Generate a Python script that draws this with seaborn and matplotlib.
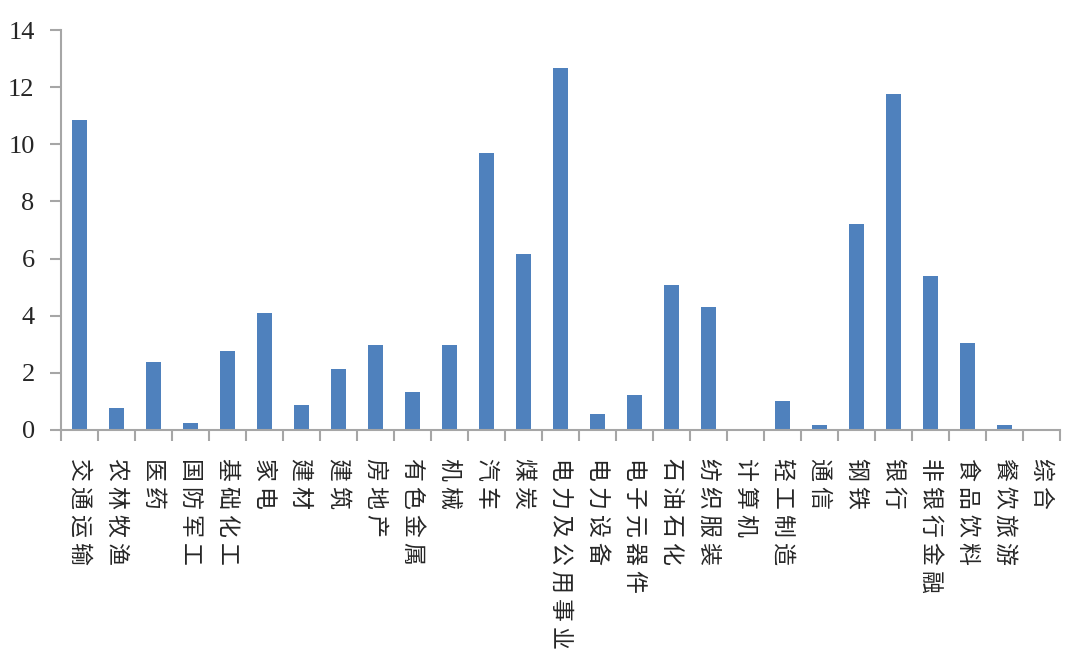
import numpy as np
import pandas as pd
import matplotlib
matplotlib.use('Agg')
import matplotlib.pyplot as plt
import seaborn as sns

# 行业数据
industries = ['交通运输', '农林牧渔', '医药', '国防军工', '基础化工', '家电', '建材', '建筑',
              '房地产', '有色金属', '机械', '汽车', '煤炭', '电力及公用事业', '电力设备',
              '电子元器件', '石油石化', '纺织服装', '计算机', '轻工制造', '通信', '钢铁',
              '银行', '非银行金融', '食品饮料', '餐饮旅游', '综合']
values = [10.85, 0.78, 2.39, 0.25, 2.77, 4.1, 0.88, 2.14,
          2.97, 1.33, 2.97, 9.68, 6.15, 12.66, 0.56,
          1.22, 5.07, 4.3, 0.02, 1.02, 0.18, 7.21,
          11.75, 5.39, 3.05, 0.18, 0.01]
y_ticks = [0, 2, 4, 6, 8, 10, 12, 14]

df = pd.DataFrame({'industry': industries, 'value': values})

sns.set_theme(style='white')
plt.rcParams['font.family'] = ['Noto Sans CJK SC', 'DejaVu Sans']

fig = plt.figure(figsize=(10.71, 6.6), dpi=100)
ax = fig.add_axes([0.057, 0.3485, 0.9327, 0.606])

sns.barplot(data=df, x='industry', y='value', color='#4F81BD', saturation=1,
            width=0.42, linewidth=0, ax=ax)

ax.set_xlim(-0.5, len(industries) - 0.5)
ax.set_ylim(0, 14)
ax.set_yticks(y_ticks)
ax.set_yticklabels([str(t) for t in y_ticks], family=['Liberation Serif'], fontsize=19)

# x轴标签：竖排
spaced = [' '.join(list(s)) for s in industries]
ax.set_xticks(range(len(industries)))
ax.set_xticklabels(spaced, rotation=-90, ha='center', va='top', fontsize=16.5,
                   family=['Noto Sans CJK SC', 'DejaVu Sans'])
ax.tick_params(axis='x', which='major', bottom=True, length=0, pad=20)
ax.set_xticks(np.arange(-0.5, len(industries), 1), minor=True)
ax.tick_params(axis='x', which='minor', bottom=True, length=8, width=1.5,
               color='#A6A6A6', direction='out')
ax.tick_params(axis='y', left=True, length=8, width=1.5, color='#A6A6A6',
               direction='out', pad=11)

ax.set_xlabel('')
ax.set_ylabel('')
for side in ['top', 'right']:
    ax.spines[side].set_visible(False)
for side in ['left', 'bottom']:
    ax.spines[side].set_color('#A6A6A6')
    ax.spines[side].set_linewidth(1.5)

fig.savefig('out.png', dpi=100)
